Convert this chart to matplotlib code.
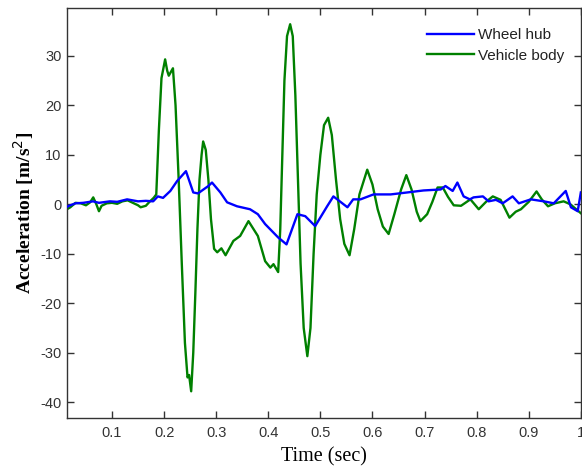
import numpy as np
import matplotlib
matplotlib.use('Agg')
import matplotlib.pyplot as plt

plt.rcParams['axes.unicode_minus'] = False

# vehicle body acceleration (green)
t_body = [0.0135, 0.02, 0.03, 0.04, 0.05, 0.058, 0.064, 0.07, 0.075, 0.08,
          0.09, 0.1, 0.11, 0.12, 0.13, 0.14, 0.15, 0.155, 0.165, 0.172,
          0.18, 0.185, 0.19, 0.195, 0.202, 0.206, 0.209, 0.217, 0.222, 0.228,
          0.234, 0.24, 0.245, 0.248, 0.252, 0.256, 0.26, 0.264, 0.268, 0.272,
          0.275, 0.28, 0.285, 0.29, 0.296, 0.302, 0.31, 0.318, 0.333, 0.346,
          0.362, 0.38, 0.394, 0.404, 0.41, 0.419, 0.423, 0.427, 0.431, 0.436,
          0.442, 0.447, 0.452, 0.457, 0.462, 0.468, 0.475, 0.481, 0.487, 0.493,
          0.5, 0.507, 0.515, 0.522, 0.53, 0.538, 0.546, 0.556, 0.565, 0.575,
          0.59, 0.6, 0.61, 0.62, 0.631, 0.642, 0.655, 0.665, 0.675, 0.685,
          0.692, 0.705, 0.715, 0.725, 0.735, 0.745, 0.756, 0.77, 0.788, 0.804,
          0.818, 0.831, 0.846, 0.855, 0.863, 0.875, 0.885, 0.9, 0.915, 0.925,
          0.937, 0.95, 0.967, 0.98, 1.0]
a_body = [-1.0, -0.6, 0.3, 0.2, -0.2, 0.4, 1.4, 0.0, -1.4, -0.3,
          0.2, 0.3, 0.1, 0.6, 0.8, 0.3, -0.2, -0.6, -0.3, 0.5,
          1.3, 2.0, 15.0, 25.5, 29.3, 27.0, 26.0, 27.5, 20.0, 5.0,
          -12.0, -28.0, -35.0, -34.5, -37.8, -30.0, -18.0, -5.0, 5.0, 10.0,
          12.7, 11.0, 5.0, -3.0, -9.0, -9.7, -8.9, -10.3, -7.4, -6.4,
          -3.4, -6.4, -11.5, -12.8, -12.1, -13.7, -5.0, 10.0, 25.0, 34.0,
          36.4, 34.0, 22.0, 5.0, -12.0, -25.0, -30.7, -25.0, -10.0, 2.0,
          10.0, 16.0, 17.5, 14.0, 5.0, -3.0, -8.0, -10.3, -5.0, 2.0,
          7.0, 4.0, -1.0, -4.5, -6.0, -2.0, 3.0, 5.9, 3.0, -1.5,
          -3.4, -2.0, 0.5, 3.4, 3.4, 1.5, -0.2, -0.3, 1.0, -1.0,
          0.5, 1.6, 0.9, -1.0, -2.7, -1.5, -1.0, 0.5, 2.6, 1.0,
          -0.4, 0.2, 0.6, 0.0, -1.8]

# wheel hub acceleration (blue)
t_hub = [0.0135, 0.02, 0.03, 0.045, 0.0635, 0.075, 0.096, 0.11, 0.129, 0.15,
         0.165, 0.179, 0.188, 0.198, 0.212, 0.225, 0.242, 0.256, 0.265, 0.285,
         0.292, 0.308, 0.321, 0.34, 0.365, 0.38, 0.394, 0.419, 0.435, 0.456,
         0.471, 0.49, 0.513, 0.525, 0.552, 0.563, 0.577, 0.602, 0.635, 0.667,
         0.698, 0.731, 0.74, 0.754, 0.763, 0.775, 0.787, 0.794, 0.812, 0.823,
         0.837, 0.85, 0.869, 0.881, 0.904, 0.929, 0.948, 0.971, 0.981, 0.994,
         1.0]
a_hub = [-0.5, -0.2, 0.2, 0.3, 0.6, 0.3, 0.6, 0.5, 1.0, 0.6,
         0.7, 0.6, 1.6, 1.3, 2.7, 4.7, 6.7, 2.4, 2.2, 3.7,
         4.4, 2.4, 0.4, -0.4, -1.0, -2.0, -4.0, -6.7, -8.1, -2.0,
         -2.4, -4.4, -0.4, 1.6, -0.6, 1.0, 1.0, 2.0, 2.0, 2.4,
         2.8, 3.0, 3.7, 2.7, 4.4, 1.6, 1.0, 1.4, 1.6, 0.6,
         0.9, 0.2, 1.6, 0.2, 1.0, 0.6, 0.2, 2.7, -0.6, -1.4,
         2.4]

x_ticks = [0.1, 0.2, 0.3, 0.4, 0.5, 0.6, 0.7, 0.8, 0.9, 1.0]
x_labels = ['0.1', '0.2', '0.3', '0.4', '0.5', '0.6', '0.7', '0.8', '0.9', '1']
y_ticks = [-40, -30, -20, -10, 0, 10, 20, 30]

fig = plt.figure(figsize=(5.82, 4.66), dpi=100)
ax = fig.add_axes([0.115, 0.103, 0.883, 0.88])

ax.plot(t_hub, a_hub, color='#0000ff', lw=1.7, label='Wheel hub', zorder=3)
ax.plot(t_body, a_body, color='#008000', lw=1.7, label='Vehicle body', zorder=2)

ax.set_xlim(0.0135, 1.0)
ax.set_ylim(-43.2, 39.7)
ax.set_xticks(x_ticks)
ax.set_xticklabels(x_labels)
ax.set_yticks(y_ticks)

axcol = '#333333'
ax.tick_params(direction='in', length=5, width=1, colors=axcol,
               top=True, right=True, labelsize=10.5)
ax.tick_params(axis='x', pad=6)
ax.tick_params(axis='y', pad=4)
for lab in ax.get_xticklabels() + ax.get_yticklabels():
    lab.set_family(['Liberation Sans', 'DejaVu Sans'])
for s in ax.spines.values():
    s.set_color(axcol)
    s.set_linewidth(1)

ax.set_xlabel('Time (sec)', family='Liberation Serif', fontsize=14.5, labelpad=5)
ax.set_ylabel('Acceleration [m/s$^2$]', family='Liberation Serif',
              fontsize=14, fontweight='bold', labelpad=3)

leg = ax.legend(loc='upper right', bbox_to_anchor=(0.968, 0.95), frameon=False,
                handlelength=3.1, handletextpad=0.25, labelspacing=0.4,
                borderaxespad=0, borderpad=0,
                prop={'family': 'Liberation Sans', 'size': 11})
for txt in leg.get_texts():
    txt.set_color('#222222')

fig.savefig('out.png', dpi=100)
